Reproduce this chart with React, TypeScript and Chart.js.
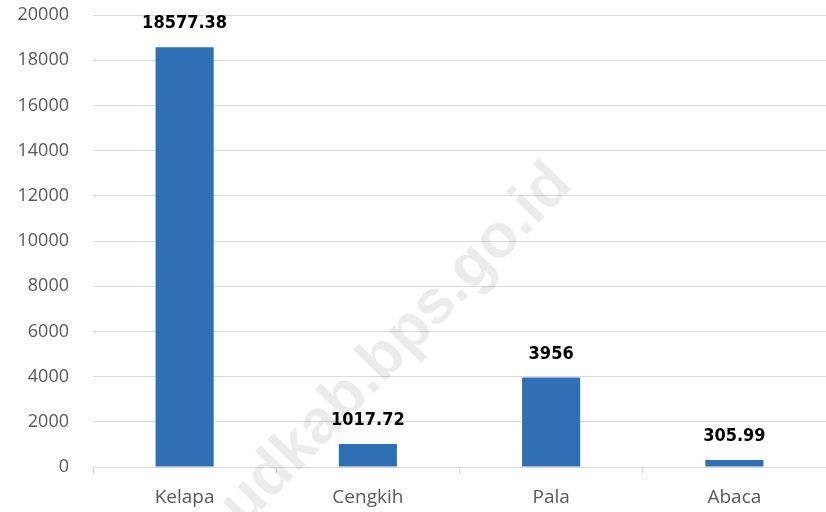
import React, { useEffect, useRef } from "react";
import { Chart, registerables } from "chart.js";

Chart.register(...registerables);

const categories = ["Kelapa", "Cengkih", "Pala", "Abaca"];
const values = [18577.38, 1017.72, 3956, 305.99];
const valueLabels = ["18577.38", "1017.72", "3956", "305.99"];
const yMin = 0;
const yMax = 20000;
const yStep = 2000;
const watermarkText = "talaudkab.bps.go.id";

const dataLabelPlugin = {
  id: "dataLabels",
  afterDatasetsDraw(chart: any) {
    const ctx = chart.ctx;
    const meta = chart.getDatasetMeta(0);
    ctx.save();
    ctx.font = "bold 18px 'DejaVu Sans Condensed', 'DejaVu Sans'";
    ctx.fillStyle = "#000000";
    ctx.textAlign = "center";
    ctx.textBaseline = "alphabetic";
    meta.data.forEach((el: any, i: number) => {
      ctx.fillText(valueLabels[i], el.x, el.y - 19);
    });
    ctx.restore();
  },
};

const watermarkPlugin = {
  id: "watermark",
  afterDraw(chart: any) {
    const ctx = chart.ctx;
    ctx.save();
    ctx.translate(574, 186);
    ctx.rotate((-46 * Math.PI) / 180);
    ctx.font = "bold 62px 'Liberation Sans'";
    ctx.fillStyle = "rgba(0,0,0,0.075)";
    ctx.textAlign = "right";
    ctx.textBaseline = "alphabetic";
    ctx.fillText(watermarkText, 0, 0);
    ctx.restore();
  },
};

export default function App() {
  const ref = useRef<HTMLCanvasElement | null>(null);
  useEffect(() => {
    if (!ref.current) return;
    const chart = new Chart(ref.current, {
      type: "bar",
      data: {
        labels: categories,
        datasets: [
          {
            data: values,
            backgroundColor: "#2E6FB6",
            barPercentage: 0.634,
            categoryPercentage: 0.5,
          },
        ],
      },
      options: {
        animation: false,
        responsive: false,
        maintainAspectRatio: false,
        layout: { padding: { top: 15, right: 0, left: 0, bottom: 0 } },
        plugins: {
          legend: { display: false },
          tooltip: { enabled: false },
        },
        scales: {
          x: {
            grid: {
              display: true,
              drawOnChartArea: false,
              drawTicks: true,
              tickLength: 7,
              color: "#d9d9d9",
            },
            border: { display: true, color: "#d9d9d9" },
            ticks: {
              color: "#595959",
              font: { family: "'Open Sans'", size: 19 },
              padding: 12,
            },
            afterFit(scale: any) {
              scale.height = 45;
              scale.paddingLeft = 0;
              scale.paddingRight = 0;
            },
          },
          y: {
            min: yMin,
            max: yMax,
            grid: { color: "#d9d9d9", drawTicks: false },
            border: { display: false },
            ticks: {
              stepSize: yStep,
              color: "#595959",
              font: { family: "'Open Sans'", size: 18 },
              padding: 24,
              callback: (v: any) => String(v),
            },
            afterFit(scale: any) {
              scale.width = 93;
              scale.paddingTop = 0;
              scale.paddingBottom = 0;
            },
          },
        },
      },
      plugins: [watermarkPlugin, dataLabelPlugin],
    });
    return () => chart.destroy();
  }, []);
  return (
    <div style={{ position: "fixed", left: 0, top: 0, width: 826, height: 512, background: "#fff" }}>
      <canvas ref={ref} width={826} height={512} style={{ width: 826, height: 512 }} />
    </div>
  );
}
